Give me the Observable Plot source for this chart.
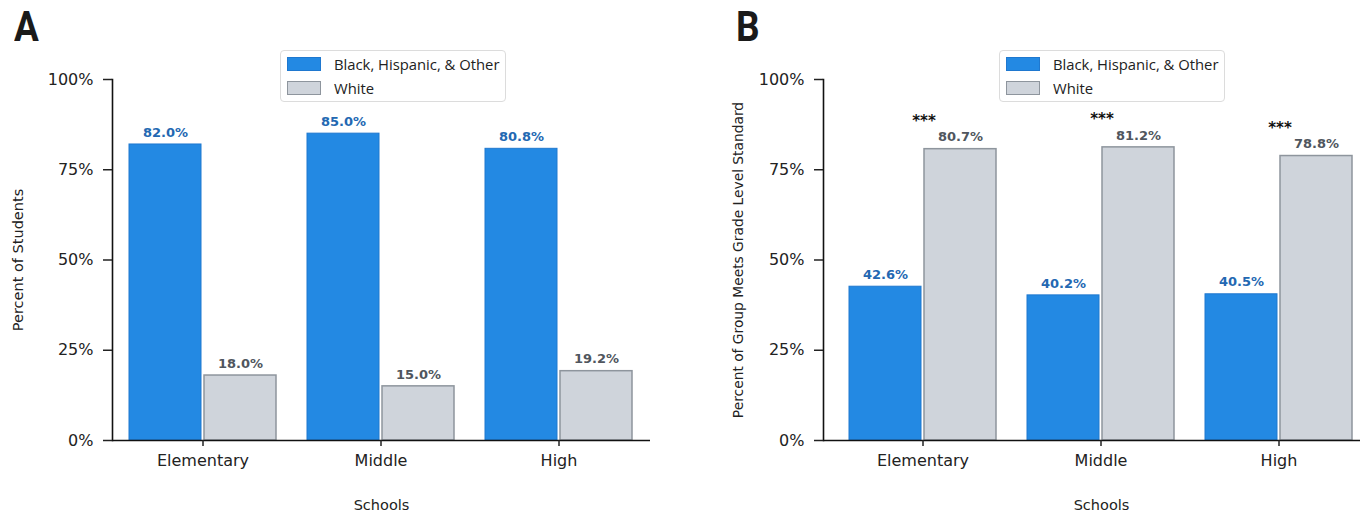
<!DOCTYPE html>
<html>
<head>
<meta charset="utf-8">
<script src="https://cdn.jsdelivr.net/npm/d3@7"></script>
<script src="https://cdn.jsdelivr.net/npm/@observablehq/plot@0.6"></script>
<style>
  html, body { margin: 0; padding: 0; background: #fff; }
  #page { position: relative; width: 1360px; height: 512px; overflow: hidden; background: #fff; }
  .panel { position: absolute; top: 0; }
  .panel svg { max-width: none !important; }
  .letter { position: absolute; font-family: Roboto, "Liberation Sans", sans-serif; font-weight: 700; font-size: 42px; line-height: 42px; color: #1a1a1a; transform: scaleX(0.88); transform-origin: left top; }
  .legend { position: absolute; width: 226px; height: 52px; border: 1px solid #dcdcdc; border-radius: 4px; background: #fff; box-sizing: border-box; font-family: "Open Sans", sans-serif; font-size: 14.8px; color: #222; }
  .legend .row { position: absolute; left: 0; height: 16px; }
  .legend .sw { position: absolute; left: 6px; width: 34px; height: 14px; box-sizing: border-box; }
  .legend .lbl { position: absolute; left: 53px; top: -3px; white-space: nowrap; line-height: 20px; }
</style>
</head>
<body>
<div id="page"></div>
<script>
// ---- data ----
const schools = ["Elementary", "Middle", "High"];
const groups = ["Black, Hispanic, & Other", "White"];
const studentsBHO = [82.0, 85.0, 80.8];
const studentsWhite = [18.0, 15.0, 19.2];
const meetsBHO = [42.6, 40.2, 40.5];
const meetsWhite = [80.7, 81.2, 78.8];
const significance = ["***", "***", "***"];
const yTicks = [0, 25, 50, 75, 100];

const blueFill = "#2389e3", blueStroke = "#1f78cf", blueText = "#2368b2";
const grayFill = "#cfd4db", grayStroke = "#8e959d", grayText = "#50565e";

const page = document.getElementById("page");

function makePanel({left, width, marginLeft, marginRight, paddingOuter, bho, white, ylabel, ylabelDx, ylabelSize, stars, letter, letterLeft, legendLeft}) {
  const dBho = schools.map((s, i) => ({school: s, group: groups[0], value: bho[i]}));
  const dWhite = schools.map((s, i) => ({school: s, group: groups[1], value: white[i]}));
  const base = {
    width, height: 512, marginLeft, marginRight, marginTop: 79, marginBottom: 72,
    x: {domain: schools, paddingInner: 0.173, paddingOuter},
    y: {domain: [0, 100]},
    style: {fontFamily: "DejaVu Sans", color: "#222", background: "transparent", overflow: "visible", maxWidth: "none"}
  };
  const probe = Plot.plot({...base, marks: [Plot.barY(dBho, {x: "school", y: "value"})]});
  const bw = probe.scale("x").bandwidth;
  const half = bw / 2 + 1.5;
  const off = bw / 4 + 0.75;
  const marks = [
    Plot.barY(dBho, {x: "school", y: "value", fill: blueFill, stroke: blueStroke, strokeWidth: 1, insetRight: half}),
    Plot.barY(dWhite, {x: "school", y: "value", fill: grayFill, stroke: grayStroke, strokeWidth: 1.5, insetLeft: half}),
    Plot.text(dBho, {x: "school", y: "value", text: d => d.value.toFixed(1) + "%", dx: -off, dy: -12, fill: blueText, fontWeight: "bold", fontSize: 13, lineAnchor: "middle"}),
    Plot.text(dWhite, {x: "school", y: "value", text: d => d.value.toFixed(1) + "%", dx: off, dy: -12, fill: grayText, fontWeight: "bold", fontSize: 13, lineAnchor: "middle"}),
    Plot.ruleY([0], {stroke: "#111", strokeWidth: 1.6}),
    Plot.frame({anchor: "left", stroke: "#111", strokeWidth: 1.6}),
    Plot.axisY({ticks: yTicks, tickFormat: d => d + "%", tickSize: 9, tickPadding: 10, fontSize: 16, label: null, strokeWidth: 1.5}),
    Plot.axisX({tickSize: 6, tickPadding: 8, fontSize: 16, label: null, strokeWidth: 1.5}),
    Plot.text([ylabel], {frameAnchor: "left", dx: ylabelDx, rotate: -90, textAnchor: "middle", lineAnchor: "middle", fontSize: ylabelSize, fill: "#222"}),
    Plot.text(["Schools"], {frameAnchor: "bottom", dy: 65, textAnchor: "middle", lineAnchor: "middle", fontSize: 14.5, fill: "#222"})
  ];
  if (stars) {
    marks.push(Plot.text(dWhite, {x: "school", y: "value", text: (d, i) => stars[i], dx: 1, dy: -28, fill: "#111", fontWeight: "bold", fontSize: 15, lineAnchor: "middle"}));
  }
  const chart = Plot.plot({...base, marks});
  const wrap = document.createElement("div");
  wrap.className = "panel";
  wrap.style.left = left + "px";
  wrap.style.width = width + "px";
  wrap.appendChild(chart);
  page.appendChild(wrap);

  const L = document.createElement("div");
  L.className = "letter";
  L.style.left = letterLeft + "px";
  L.style.top = "6px";
  L.textContent = letter;
  page.appendChild(L);

  const lg = document.createElement("div");
  lg.className = "legend";
  lg.style.left = legendLeft + "px";
  lg.style.top = "50px";
  [[groups[0], blueFill, blueStroke, 6], [groups[1], grayFill, grayStroke, 30]].forEach(([name, f, s, top]) => {
    const row = document.createElement("div");
    row.className = "row";
    row.style.top = top + "px";
    const sw = document.createElement("div");
    sw.className = "sw";
    sw.style.background = f;
    sw.style.border = "1.5px solid " + s;
    const lb = document.createElement("div");
    lb.className = "lbl";
    lb.textContent = name;
    row.appendChild(sw); row.appendChild(lb);
    lg.appendChild(row);
  });
  page.appendChild(lg);
}

makePanel({left: 0, width: 680, marginLeft: 112, marginRight: 30, paddingOuter: 0.092,
  bho: studentsBHO, white: studentsWhite, ylabel: "Percent of Students", ylabelDx: -94, ylabelSize: 14.5,
  stars: null, letter: "A", letterLeft: 14, legendLeft: 280});
makePanel({left: 680, width: 700, marginLeft: 143, marginRight: 1, paddingOuter: 0.14,
  bho: meetsBHO, white: meetsWhite, ylabel: "Percent of Group Meets Grade Level Standard", ylabelDx: -85, ylabelSize: 13.8,
  stars: significance, letter: "B", letterLeft: 736, legendLeft: 999});
</script>
</body>
</html>
